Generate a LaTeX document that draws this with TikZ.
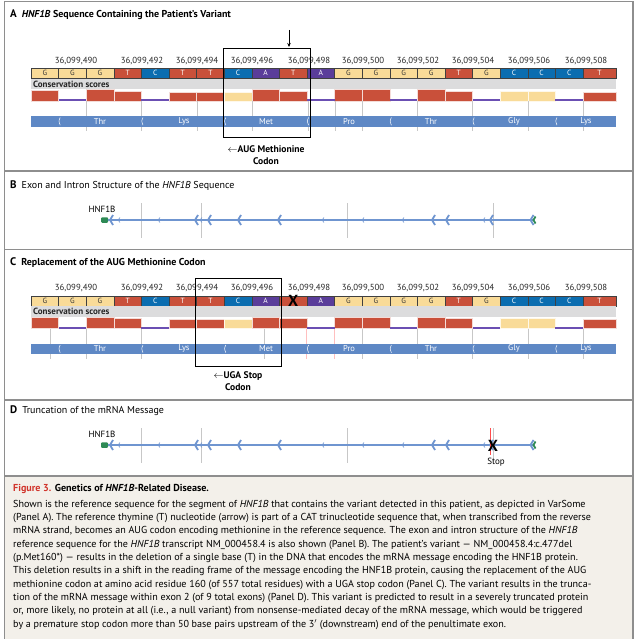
\documentclass[tikz,border=0pt]{standalone}
\usepackage{fontspec}
\setmainfont{PT Sans}
\usepackage{tikz}
\usetikzlibrary{arrows.meta}

\definecolor{nucyel}{HTML}{F9DB98}
\definecolor{nucred}{HTML}{C9503A}
\definecolor{nucblue}{HTML}{0B6DB0}
\definecolor{nucpurp}{HTML}{5A3D9A}
\definecolor{consgray}{HTML}{DCDCDD}
\definecolor{consline}{HTML}{6B4FB3}
\definecolor{aabar}{HTML}{5E88C5}
\definecolor{geneblue}{HTML}{6F95D0}
\definecolor{genegreen}{HTML}{2E8A55}
\definecolor{framegray}{HTML}{8E8E8E}
\definecolor{capbg}{HTML}{F3F0EA}
\definecolor{figred}{HTML}{D1342B}

\tikzset{
  nuc/.style={draw=black!75, line width=0.5pt, minimum height=10pt, inner sep=0pt,
    font=\fontsize{7.5}{7}\selectfont},
  poslabel/.style={font=\fontsize{8.8}{8}\selectfont, text=black!85, inner sep=0pt},
  aalabel/.style={font=\fontsize{8.5}{8}\selectfont, text=white, inner sep=0pt},
  gridline/.style={black!22, line width=0.7pt},
  paneltitle/.style={anchor=west, inner sep=0pt, font=\fontsize{10}{10}\selectfont},
  codonbox/.style={draw=black, line width=0.8pt},
  codonlabel/.style={align=center, inner sep=0pt, font=\bfseries\fontsize{9.6}{12}\selectfont},
  geneline/.style={geneblue, line width=1.8pt},
  exonmark/.style={geneblue, line width=1.8pt},
  intronmark/.style={geneblue, line width=0.6pt},
}

\begin{document}
\begin{tikzpicture}[x=1pt, y=-1pt]
\useasboundingbox (0,0) rectangle (636,639);

%% frame and caption background
\fill[capbg] (4.5,476) rectangle (633,639);
\draw[framegray, line width=1.5pt] (4.5,639) -- (4.5,1.5) -- (633,1.5) -- (633,639);
\foreach \sy in {171,249.5,400,476}
  \draw[framegray, line width=1.5pt] (4.5,\sy) -- (633,\sy);

%% panel titles
\node[paneltitle] (ta) at (10,15)
  {\textbf{\fontsize{11}{10}\selectfont A}\hspace{5pt}\textbf{\textit{HNF1B} Sequence Containing the Patient's Variant}};
\node[paneltitle] (tb) at (10,186)
  {\textbf{\fontsize{11}{10}\selectfont B}\hspace{5pt}Exon and Intron Structure of the \textit{HNF1B} Sequence};
\node[paneltitle] (tc) at (10,262.3)
  {\textbf{\fontsize{11}{10}\selectfont C}\hspace{5pt}\textbf{Replacement of the AUG Methionine Codon}};
\node[paneltitle] (td) at (10,411)
  {\textbf{\fontsize{11}{10}\selectfont D}\hspace{5pt}Truncation of the mRNA Message};

%% sequence tracks (A and C); base 10 is crossed out in C
\foreach \p/\oy/\tb in {a/0/T,c/227.5/{}}{
  % positions
  \foreach \n/\px in {490/76,492/142,494/197,496/252,498/309,500/363,502/418,504/473,506/529,508/586}
    \node[poslabel] (\p l\n) at (\px,61+\oy) {36,099,\n};
  % bases
  \foreach \i/\b/\c/\t in {1/G/nucyel/black!80,2/G/nucyel/black!80,3/G/nucyel/black!80,
      4/T/nucred/white,5/C/nucblue/white,6/T/nucred/white,7/T/nucred/white,
      8/C/nucblue/white,9/A/nucpurp/white,10/\tb/nucred/white,11/A/nucpurp/white,
      12/G/nucyel/black!80,13/G/nucyel/black!80,14/G/nucyel/black!80,15/G/nucyel/black!80,
      16/T/nucred/white,17/G/nucyel/black!80,18/C/nucblue/white,19/C/nucblue/white,
      20/C/nucblue/white,21/T/nucred/white}{
    \pgfmathsetmacro\w{ifthenelse(\i==21,33,27.6)}
    \pgfmathsetmacro\xc{31+(\i-1)*27.6+\w/2}
    \node[nuc, fill=\c, text=\t, minimum width=\w pt] (\p\i) at (\xc,73.3+\oy) {\b};
  }
  % conservation scores
  \fill[consgray] (31,78.6+\oy) rectangle (616,89.3+\oy);
  \node[anchor=west, inner sep=0pt, font=\bfseries\fontsize{9}{8}\selectfont, text=black!85]
    (\p cons) at (33,84+\oy) {Conservation scores};
  \foreach \i/\top/\c in {1/89.8/nucred,3/89.3/nucred,4/91/nucred,6/91.7/nucred,7/91.7/nucred,
      8/91.7/nucyel,9/89.3/nucred,10/91/nucred,12/89.3/nucred,13/89.3/nucred,15/89.3/nucred,
      16/91/nucred,18/91/nucyel,19/91/nucyel,21/91.7/nucred}{
    \pgfmathsetmacro\w{ifthenelse(\i==21,33,27.6)}
    \fill[\c, draw=white!80!\c, line width=0.3pt] (31+\i*27.6-27.6,\top+\oy) rectangle ++(\w,101-\top);
  }
  \foreach \i in {2,5,11,14,17,20}
    \fill[consline] (31+\i*27.6-27.6,99.2+\oy) rectangle ++(27.6,1.8);
}

%% grid lines behind the amino acid bars
\foreach \gx in {86.7,141.7,197.3,252.3,308,335,362,417,472,528,583}
  \draw[gridline] (\gx,101) -- (\gx,131);
\foreach \gx in {50.7,86.7,141.7,264.3,362,417,472,528,583}
  \draw[gridline] (\gx,328.5) -- (\gx,358.5);
\foreach \gx in {306.7,334.3}
  \draw[red!25, line width=0.7pt] (\gx,328.5) -- (\gx,358.5);

%% amino acid bars
\foreach \p/\oy in {a/0,c/227.5}{
  \fill[aabar] (31,116+\oy) rectangle (616,126.7+\oy);
  \foreach \k in {1,4,7,10,13,16,19}
    \draw[white, line width=0.5pt] (31+\k*27.6+1.6,117.5+\oy) .. controls (31+\k*27.6,121+\oy) .. (31+\k*27.6+1.6,125.2+\oy);
  \foreach \aa/\ax [count=\j] in {Thr/100,Lys/184,Met/266,Pro/349,Thr/431,Gly/514,Lys/586}
    \node[aalabel] (\p aa\j) at (\ax,121.3+\oy) {\aa};
}

%% panel A: variant codon and arrow
\draw[codonbox] (223.5,48) rectangle (310,137);
\coordinate (arrtop) at (289,30);
\coordinate (arrtip) at (289,47);
\draw[-{Stealth[length=4pt,width=3.5pt]}, line width=0.6pt] (arrtop) -- (arrtip);
\node[codonlabel] (augnote) at (266,155.5) {$\leftarrow$AUG Methionine\\Codon};

%% panel C: deleted base and stop codon
\node[inner sep=0pt, font=\bfseries\fontsize{16}{16}\selectfont] (delx) at (c10) {X};
\draw[codonbox] (195,278.3) rectangle (281.7,366.7);
\node[codonlabel] (uganote) at (238,381.5) {$\leftarrow$UGA Stop\\Codon};

%% gene models (B and D)
\foreach \p/\oy in {b/0,d/225}{
  \foreach \gx in {141.7,201.7,347.7,493}
    \draw[gridline] (\gx,203+\oy) -- (\gx,238+\oy);
  \node[inner sep=0pt, font=\fontsize{9}{8}\selectfont] (\p name) at (102,209+\oy) {HNF1B};
  \node[fill=genegreen, rounded corners=1pt, minimum width=7pt, minimum height=5.5pt, inner sep=0pt]
    (\p start) at (104.5,220+\oy) {};
  \node[inner sep=0pt, minimum size=1pt] (\p end) at (534,220+\oy) {};
  \draw[geneline] (\p start) -- (\p end);
  \foreach \ex in {110,195,208,238,278,432,446,490}
    \draw[exonmark] (\ex+3,215+\oy) -- (\ex,220+\oy) -- (\ex+3,225+\oy);
  \foreach \ix in {118,158,200,322,362,402,483}
    \draw[intronmark] (\ix+2,217.5+\oy) -- (\ix,220+\oy) -- (\ix+2,222.5+\oy);
  \draw[exonmark] (533.5,215+\oy) -- (530.5,220+\oy) -- (533.5,225+\oy);
  \draw[genegreen, line width=1.8pt] (535.5,216.5+\oy) -- (533.5,220+\oy) -- (535.5,223.5+\oy);
}

%% panel D: stop mark
\draw[red!70, line width=0.5pt] (490.5,428) -- (490.5,455);
\node[inner sep=0pt, font=\bfseries\fontsize{16}{16}\selectfont] (stopx) at (493,446) {X};
\node[inner sep=0pt, font=\fontsize{9}{8}\selectfont] (stoplbl) at (496,462.5) {Stop};

%% caption
\node[anchor=west, inner sep=0pt, font=\fontsize{10.1}{10}\selectfont] (capttl) at (13,488.5)
  {\textcolor{figred}{\bfseries Figure 3.} \textbf{Genetics of \textit{HNF1B}-Related Disease.}};
\node[anchor=north west, align=left, inner sep=0pt, font=\fontsize{10.1}{13.3}\selectfont] (captext) at (13,500)
  {Shown is the reference sequence for the segment of \textit{HNF1B} that contains the variant detected in this patient, as depicted in VarSome\\
   (Panel A). The reference thymine (T) nucleotide (arrow) is part of a CAT trinucleotide sequence that, when transcribed from the reverse\\
   mRNA strand, becomes an AUG codon encoding methionine in the reference sequence. The exon and intron structure of the \textit{HNF1B}\\
   reference sequence for the \textit{HNF1B} transcript NM\_000458.4 is also shown (Panel B). The patient's variant --- NM\_000458.4:c.477del\\
   (p.Met160*) --- results in the deletion of a single base (T) in the DNA that encodes the mRNA message encoding the HNF1B protein.\\
   This deletion results in a shift in the reading frame of the message encoding the HNF1B protein, causing the replacement of the AUG\\
   methionine codon at amino acid residue 160 (of 557 total residues) with a UGA stop codon (Panel C). The variant results in the trunca-\\
   tion of the mRNA message within exon 2 (of 9 total exons) (Panel D). This variant is predicted to result in a severely truncated protein\\
   or, more likely, no protein at all (i.e., a null variant) from nonsense-mediated decay of the mRNA message, which would be triggered\\
   by a premature stop codon more than 50 base pairs upstream of the 3$'$ (downstream) end of the penultimate exon.};
\end{tikzpicture}
\end{document}
